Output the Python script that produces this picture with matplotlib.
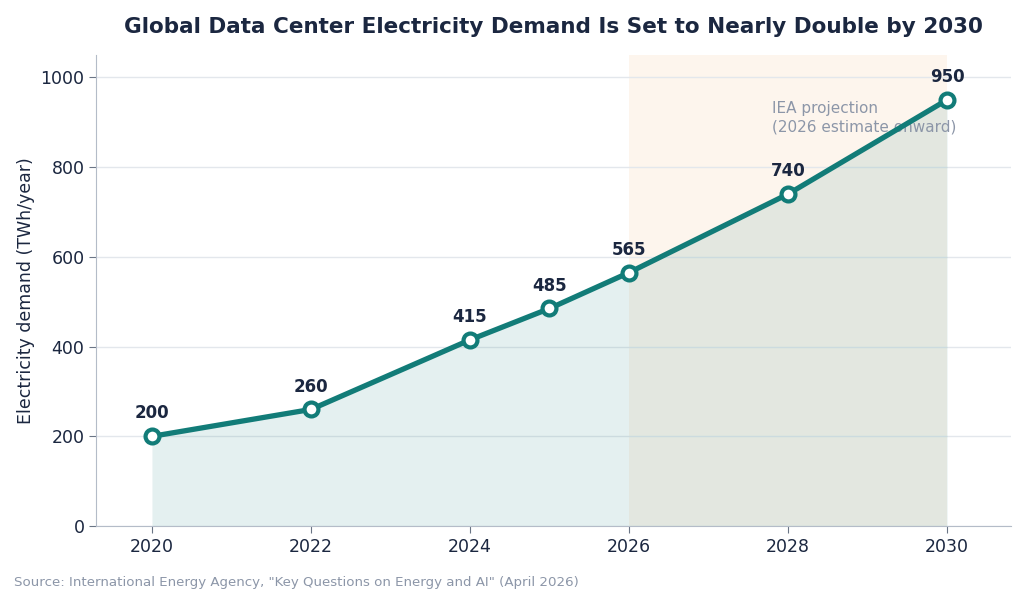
import matplotlib
matplotlib.use('Agg')
import matplotlib.pyplot as plt

NAVY = "#1B2740"
TEAL = "#127C78"
GREY = "#8C96A8"

years = [2020, 2022, 2024, 2025, 2026, 2028, 2030]
demand = [200, 260, 415, 485, 565, 740, 950]
proj_start, proj_end = 2026, 2030

fig, ax = plt.subplots(figsize=(10.24, 6.04), dpi=100)
fig.subplots_adjust(left=0.094, right=0.987, top=0.909, bottom=0.129)

ax.axvspan(proj_start, proj_end, color="#FDF4EA", alpha=0.85, zorder=0, lw=0)
ax.fill_between(years, demand, 0, color=TEAL, alpha=0.11, zorder=1, lw=0)
ax.plot(years, demand, color=TEAL, lw=3.8, marker='o', markersize=10,
        markerfacecolor='white', markeredgecolor=TEAL, markeredgewidth=3, zorder=3)

for x, y in zip(years, demand):
    ax.annotate(f"{y}", (x, y), xytext=(0, 10), textcoords='offset points',
                ha='center', va='bottom', fontsize=12, fontweight='bold', color=NAVY)

ax.text(2027.8, 947, "IEA projection\n(2026 estimate onward)", ha='left', va='top',
        fontsize=11, color=GREY, linespacing=1.3, zorder=2)

ax.set_xlim(2019.3, 2030.8)
ax.set_ylim(0, 1050)
ax.set_xticks([2020, 2022, 2024, 2026, 2028, 2030])
ax.set_yticks([0, 200, 400, 600, 800, 1000])
ax.grid(axis='y', color="#E3E7EC", lw=1, zorder=0)
ax.set_axisbelow(True)
for s in ['top', 'right']:
    ax.spines[s].set_visible(False)
for s in ['left', 'bottom']:
    ax.spines[s].set_color("#B4BCC8")
ax.tick_params(colors="#6A7585", labelcolor=NAVY, labelsize=12.5, length=5)
ax.set_ylabel("Electricity demand (TWh/year)", fontsize=12.5, color=NAVY)

ax.set_title("Global Data Center Electricity Demand Is Set to Nearly Double by 2030",
             fontsize=15.5, fontweight='bold', color=NAVY, pad=16)
fig.text(0.014, 0.035, 'Source: International Energy Agency, "Key Questions on Energy and AI" (April 2026)',
         fontsize=9.6, color=GREY, ha='left', va='center')

fig.savefig("out.png", dpi=100)
